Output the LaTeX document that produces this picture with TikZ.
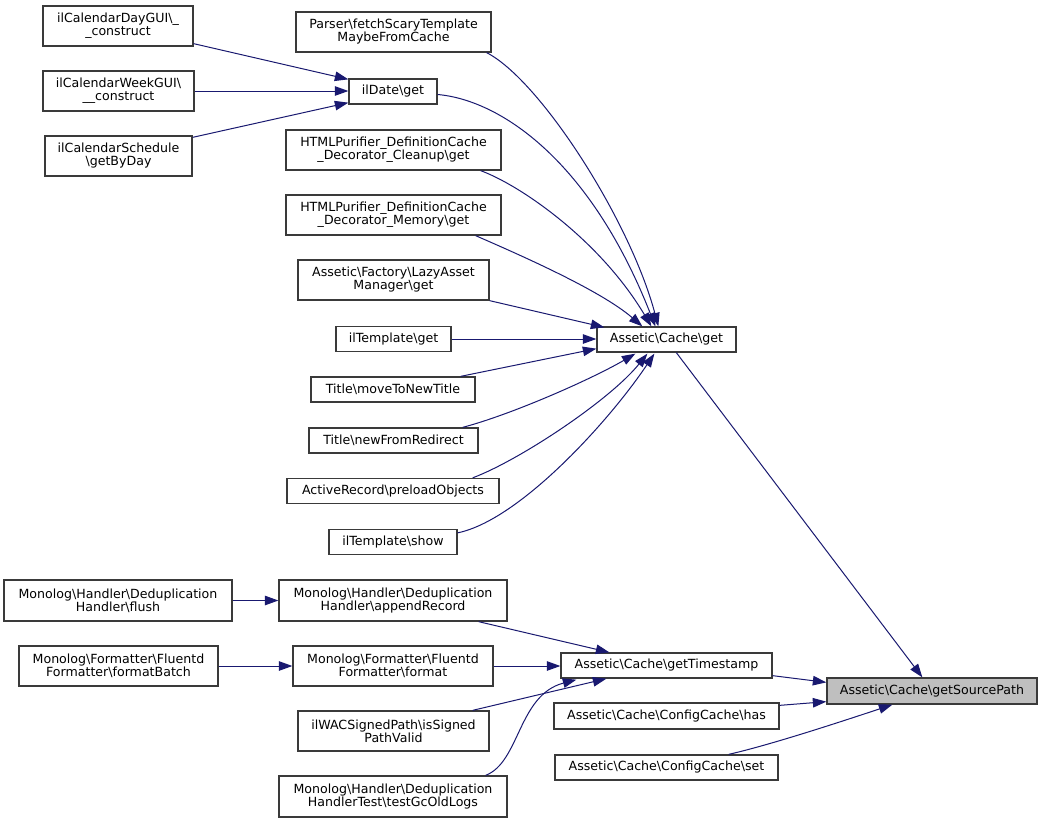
\documentclass[tikz,border=0pt]{standalone}
\usepackage{fontspec}
\setmainfont{DejaVu Sans}
\usetikzlibrary{arrows.meta,calc}
\definecolor{edgec}{HTML}{191970}
\definecolor{boxc}{HTML}{3A3A3A}
\definecolor{hl}{HTML}{BFBFBF}
\newcommand{\bsl}{\textbackslash}
\begin{document}
\begin{tikzpicture}[x=1pt,y=-1pt,
 fn/.style={draw=boxc, line width=1.3pt, fill=white, rectangle, inner sep=0pt, align=center, font=\fontsize{12.6}{13}\selectfont},
 e/.style={draw=edgec, line width=1pt, -{Triangle[length=13.5pt,width=9.5pt]}, fill=none}
]
\useasboundingbox[fill=white] (0,0) rectangle (1044,823);
% left column
\node[fn, minimum width=150pt, minimum height=40pt] (dayg) at (118,26) {ilCalendarDayGUI\bsl\_\\\_construct};
\node[fn, minimum width=151pt, minimum height=40pt] (weekg) at (118.5,91) {ilCalendarWeekGUI\bsl\\\_\_construct};
\node[fn, minimum width=147pt, minimum height=40pt] (sched) at (118.5,156) {ilCalendarSchedule\\\bsl getByDay};
\node[fn, minimum width=228pt, minimum height=41pt] (flush) at (118,600.5) {Monolog\bsl Handler\bsl Deduplication\\Handler\bsl flush};
\node[fn, minimum width=199pt, minimum height=40pt] (fbatch) at (118.5,666) {Monolog\bsl Formatter\bsl Fluentd\\Formatter\bsl formatBatch};
% middle column
\node[fn, minimum width=195pt, minimum height=40pt] (parser) at (393.5,32) {Parser\bsl fetchScaryTemplate\\MaybeFromCache};
\node[fn, minimum width=88pt, minimum height=25pt] (ildate) at (393,91.5) {ilDate\bsl get};
\node[fn, minimum width=215pt, minimum height=40pt] (cleanup) at (393.5,150) {HTMLPurifier\_DefinitionCache\\\_Decorator\_Cleanup\bsl get};
\node[fn, minimum width=215pt, minimum height=40pt] (memory) at (393.5,215) {HTMLPurifier\_DefinitionCache\\\_Decorator\_Memory\bsl get};
\node[fn, minimum width=191pt, minimum height=40pt] (lazy) at (393.5,280) {Assetic\bsl Factory\bsl LazyAsset\\Manager\bsl get};
\node[fn, minimum width=115pt, minimum height=25pt] (tget) at (393.5,339) {ilTemplate\bsl get};
\node[fn, minimum width=164pt, minimum height=25pt] (move) at (393,389.5) {Title\bsl moveToNewTitle};
\node[fn, minimum width=169pt, minimum height=25pt] (redir) at (393.5,440.5) {Title\bsl newFromRedirect};
\node[fn, minimum width=212pt, minimum height=25pt] (preload) at (393,491) {ActiveRecord\bsl preloadObjects};
\node[fn, minimum width=128pt, minimum height=25pt] (tshow) at (393,542) {ilTemplate\bsl show};
\node[fn, minimum width=228pt, minimum height=41pt] (append) at (393,600.5) {Monolog\bsl Handler\bsl Deduplication\\Handler\bsl appendRecord};
\node[fn, minimum width=200pt, minimum height=40pt] (format) at (393,666) {Monolog\bsl Formatter\bsl Fluentd\\Formatter\bsl format};
\node[fn, minimum width=191pt, minimum height=40pt] (signed) at (393.5,731) {ilWACSignedPath\bsl isSigned\\PathValid};
\node[fn, minimum width=228pt, minimum height=41pt] (gcold) at (393,796.5) {Monolog\bsl Handler\bsl Deduplication\\HandlerTest\bsl testGcOldLogs};
% right column
\node[fn, minimum width=139pt, minimum height=25pt] (cget) at (666.5,339.5) {Assetic\bsl Cache\bsl get};
\node[fn, minimum width=211pt, minimum height=25pt] (tstamp) at (666.5,665.5) {Assetic\bsl Cache\bsl getTimestamp};
\node[fn, minimum width=225pt, minimum height=26pt] (has) at (666.5,716) {Assetic\bsl Cache\bsl ConfigCache\bsl has};
\node[fn, minimum width=223pt, minimum height=25pt] (set) at (666.5,767.5) {Assetic\bsl Cache\bsl ConfigCache\bsl set};
\node[fn, fill=hl, minimum width=210pt, minimum height=26pt] (src) at (932,691) {Assetic\bsl Cache\bsl getSourcePath};
% edges into ilDate\get
\draw[e] ($(dayg.south east)+(0,-3)$) -- ($(ildate.north west)+(0,1)$);
\draw[e] (weekg.east) -- (weekg.east -| ildate.west);
\draw[e] ($(sched.north east)+(0,2)$) -- ($(ildate.south west)+(0,-2)$);
% edges into Assetic\Cache\get
\draw[e] ($(parser.south east)+(-5,0)$) .. controls (540,80) and (630,220) .. ($(cget.north west)+(62,0)$);
\draw[e] ($(ildate.east)+(0,3)$) .. controls (500,100) and (590,160) .. ($(cget.north west)+(59,0)$);
\draw[e] ($(cleanup.south east)+(-21,0)$) .. controls (520,185) and (600,240) .. ($(cget.north west)+(55,0)$);
\draw[e] ($(memory.south east)+(-26,0)$) .. controls (520,255) and (600,290) .. ($(cget.north west)+(46,0)$);
\draw[e] ($(lazy.south east)+(0,0)$) -- ($(cget.north west)+(8,1)$);
\draw[e] (tget.east) -- (tget.east -| cget.west);
\draw[e] ($(move.north east)+(-15,0)$) -- ($(cget.south west)+(0,-4)$);
\draw[e] ($(redir.north east)+(-16,0)$) .. controls (510,415) and (590,380) .. ($(cget.south west)+(39,1)$);
\draw[e] ($(preload.north east)+(-27,0)$) .. controls (520,460) and (610,400) .. ($(cget.south west)+(51,1)$);
\draw[e] ($(tshow.north east)+(0,4)$) .. controls (520,520) and (610,420) .. ($(cget.south west)+(58,1)$);
% Cache\get -> getSourcePath
\draw[e] ($(cget.south west)+(80,0)$) -- ($(src.north west)+(96,0)$);
% lower part
\draw[e] (flush.east) -- (flush.east -| append.west);
\draw[e] (fbatch.east) -- (fbatch.east -| format.west);
\draw[e] ($(append.south east)+(-29,0)$) -- ($(tstamp.north west)+(49,0)$);
\draw[e] (format.east) -- (format.east -| tstamp.west);
\draw[e] ($(signed.north east)+(-17,0)$) -- ($(tstamp.south west)+(46,0)$);
\draw[e] ($(gcold.north east)+(-22,0)$) .. controls (520,762) and (518,695) .. ($(tstamp.south west)+(16,1)$);
\draw[e] ($(tstamp.south east)+(0,-3)$) -- ($(src.north west)+(0,5)$);
\draw[e] ($(has.north east)+(0,3)$) -- ($(src.south west)+(0,-3)$);
\draw[e] ($(set.north east)+(-50,0)$) .. controls (770,745) and (840,722) .. ($(src.south west)+(66,0)$);
\end{tikzpicture}
\end{document}
